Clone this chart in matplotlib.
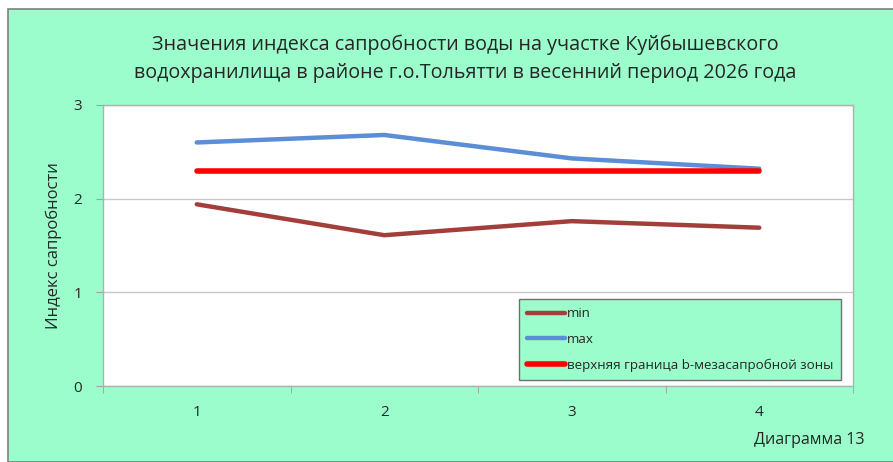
import matplotlib.pyplot as plt
from matplotlib.patches import Rectangle

plt.rcParams['font.family'] = ['Open Sans', 'DejaVu Sans']

# данные
points = [1, 2, 3, 4]
min_vals = [1.94, 1.61, 1.76, 1.69]
max_vals = [2.60, 2.68, 2.43, 2.32]
border_vals = [2.30, 2.30, 2.30, 2.30]

title = ('Значения индекса сапробности воды на участке Куйбышевского\n'
         'водохранилища в районе г.о.Тольятти в весенний период 2026 года')

bg = '#9BFDCB'
txt = '#262626'

fig = plt.figure(figsize=(8.93, 4.62), dpi=100)
fig.patch.set_facecolor('white')
# зелёная подложка диаграммы
fig.patches.append(Rectangle((8 / 893, 0), 1, 1 - 9 / 462, transform=fig.transFigure,
                             facecolor=bg, edgecolor='#808080', linewidth=1.2, zorder=-5))

ax = fig.add_axes([103 / 893, 1 - 386 / 462, 750 / 893, 281 / 462])
ax.set_facecolor('white')

ax.plot(points, min_vals, color='#A33F3B', linewidth=3.2, label='min', solid_capstyle='round')
ax.plot(points, max_vals, color='#5A8ED6', linewidth=3.2, label='max', solid_capstyle='round')
ax.plot(points, border_vals, color='#FF0000', linewidth=4, label='верхняя граница b-мезасапробной зоны',
        solid_capstyle='round')

ax.set_xlim(0.5, 4.5)
ax.set_ylim(0, 3)
ax.set_yticks([0, 1, 2, 3])
ax.set_xticks(points)
ax.set_xticks([0.5, 1.5, 2.5, 3.5, 4.5], minor=True)
ax.tick_params(axis='x', which='major', length=0, pad=14, labelsize=11, labelcolor=txt)
ax.tick_params(axis='x', which='minor', length=5, color='#A0A0A0', direction='out')
ax.tick_params(axis='y', length=5, color='#A0A0A0', pad=10, labelsize=11, labelcolor=txt)
ax.grid(axis='y', color='#C8C8C8', linewidth=1)
ax.set_axisbelow(True)
for s in ax.spines.values():
    s.set_color('#B0B0B0')
    s.set_linewidth(1)

ax.set_ylabel('Индекс сапробности', fontsize=12, color=txt, labelpad=8)

fig.text(465 / 893, 1 - 59 / 462, title, ha='center', va='center', fontsize=14.2,
         color=txt, linespacing=1.55)
fig.text(864 / 893, 1 - 440 / 462, 'Диаграмма 13', ha='right', va='center', fontsize=11.5, color=txt)

leg = ax.legend(loc='lower right', bbox_to_anchor=(738 / 750, 6 / 281), fontsize=9.6,
                frameon=True, fancybox=False, handlelength=2.9, handletextpad=0.1,
                labelspacing=0.95, borderpad=0.6, borderaxespad=0, labelcolor=txt)
leg.get_frame().set_facecolor(bg)
leg.get_frame().set_edgecolor('#707070')
leg.get_frame().set_alpha(1)

fig.savefig('out.png', dpi=100, facecolor=fig.get_facecolor())
